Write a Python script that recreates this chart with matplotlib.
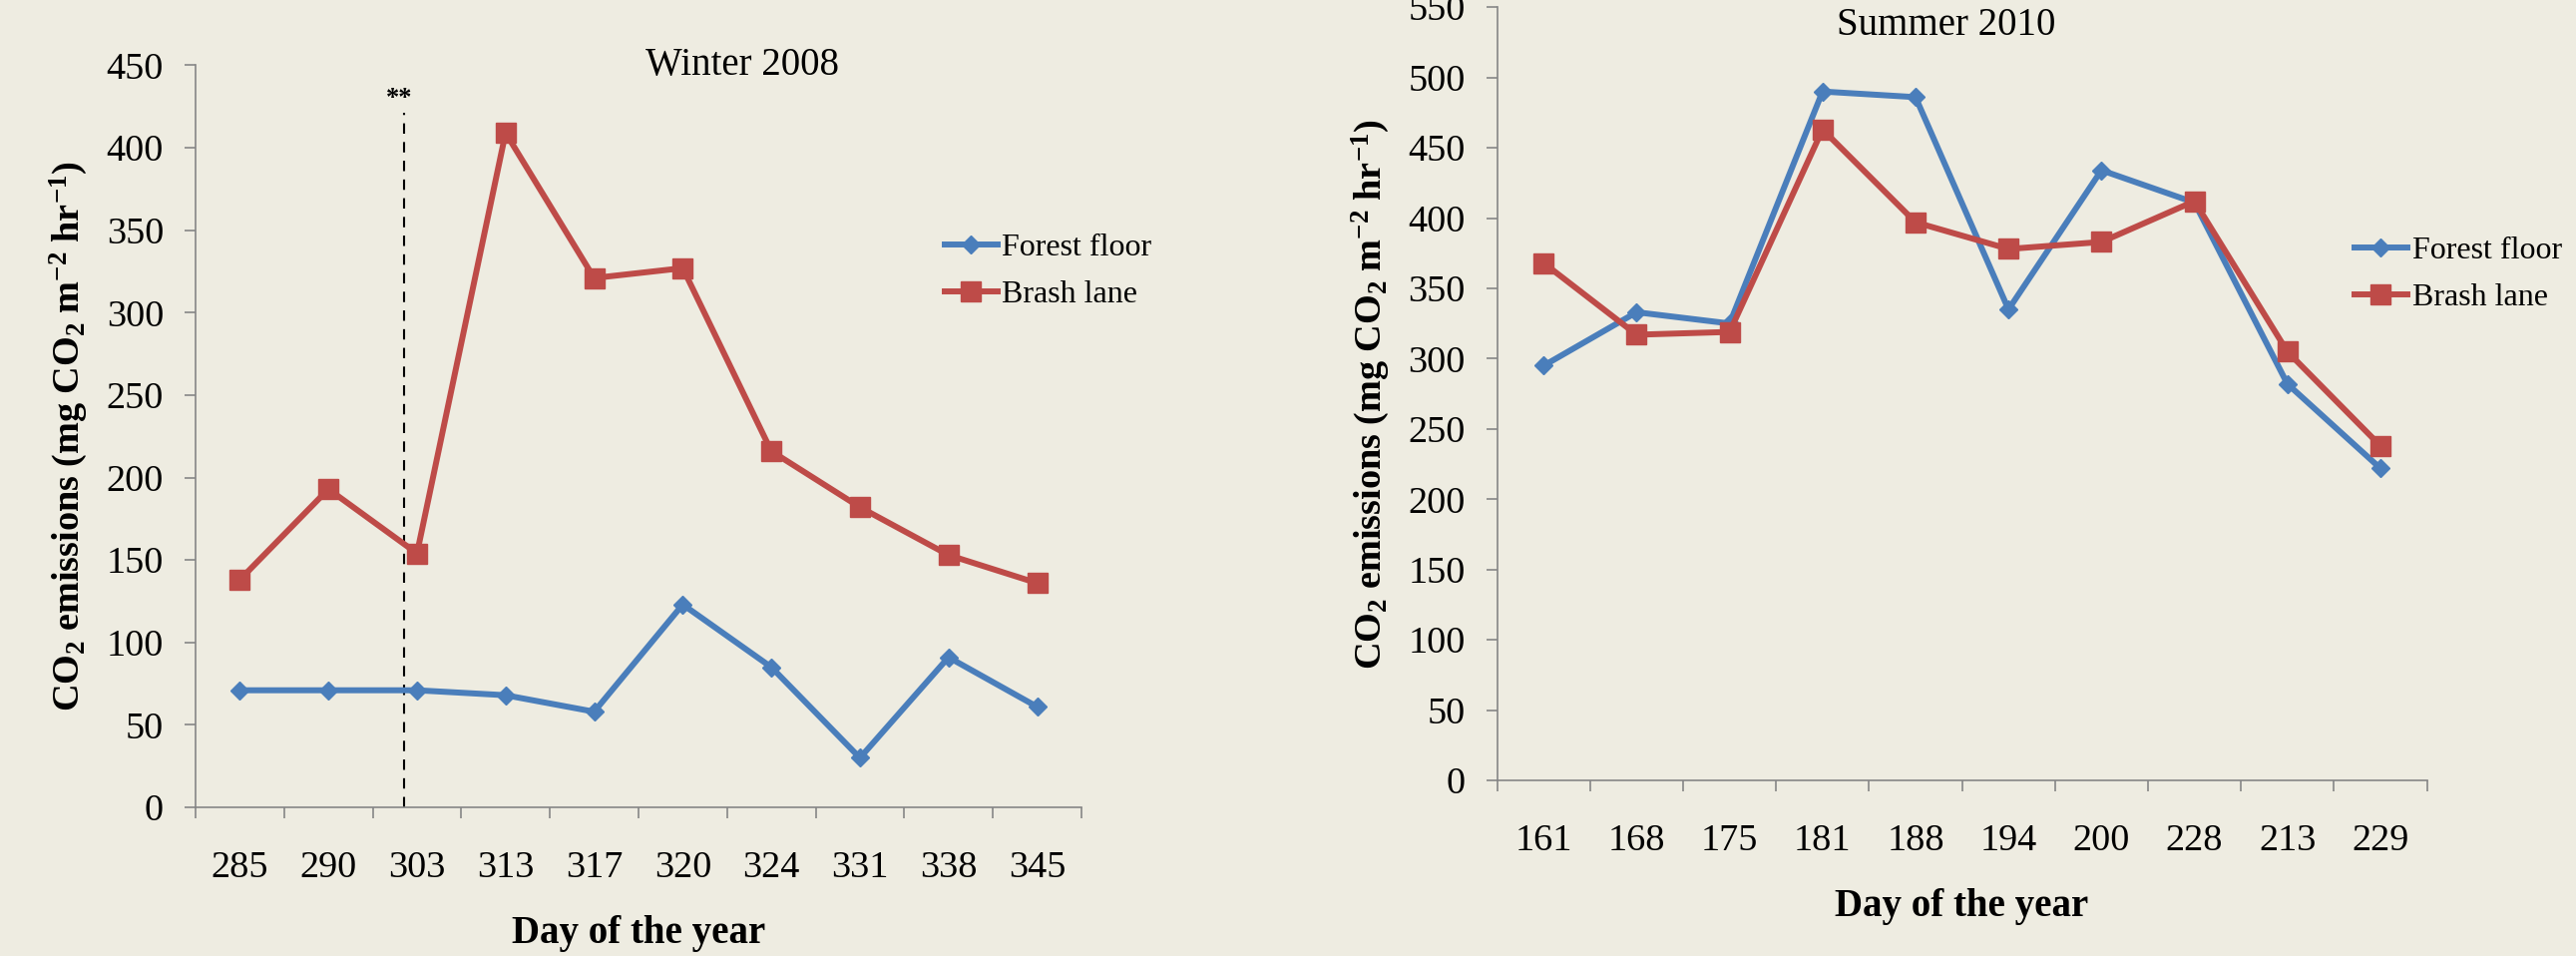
import matplotlib
matplotlib.use("Agg")
import matplotlib.pyplot as plt
import numpy as np
from matplotlib.lines import Line2D

plt.rcParams["font.family"] = ["Liberation Serif", "DejaVu Serif"]
plt.rcParams["mathtext.fontset"] = "custom"
plt.rcParams["mathtext.rm"] = "Liberation Serif"
plt.rcParams["mathtext.bf"] = "Liberation Serif:bold"
plt.rcParams["mathtext.it"] = "Liberation Serif:italic"

BG = "#EEECE1"
BLUE = "#4A7EBB"
RED = "#BE4B48"
SPINE = "#868686"

# Winter 2008
winter_days = ["285", "290", "303", "313", "317", "320", "324", "331", "338", "345"]
winter_forest = [71, 71, 71, 68, 58, 123, 85, 30, 91, 61]
winter_brash = [138, 193, 154, 409, 321, 327, 216, 182, 153, 136]
winter_marker_pos = 1.85
winter_marker_top = 421

# Summer 2010
summer_days = ["161", "168", "175", "181", "188", "194", "200", "228", "213", "229"]
summer_forest = [295, 333, 325, 490, 486, 335, 434, 411, 282, 222]
summer_brash = [368, 317, 319, 463, 397, 378, 383, 412, 305, 238]

YLABEL = r"$\mathbf{CO_2\ emissions\ (mg\ CO_2\ m^{-2}\ hr^{-1})}$"


def style_axes(ax, days, ymax):
    n = len(days)
    ax.set_facecolor(BG)
    for side in ["top", "right"]:
        ax.spines[side].set_visible(False)
    for side in ["left", "bottom"]:
        ax.spines[side].set_color(SPINE)
        ax.spines[side].set_linewidth(1.2)
    ax.set_xlim(-0.5, n - 0.5)
    ax.set_ylim(0, ymax)
    ax.set_yticks(np.arange(0, ymax + 1, 50))
    # category boundaries carry the tick marks, labels sit between them
    ax.set_xticks(np.arange(-0.5, n, 1.0))
    ax.set_xticklabels([])
    ax.set_xticks(np.arange(n), minor=True)
    ax.set_xticklabels(days, minor=True)
    ax.tick_params(axis="x", which="major", direction="out", length=8,
                   width=1.2, color=SPINE)
    ax.tick_params(axis="x", which="minor", length=0, pad=31, labelsize=27.5)
    ax.tick_params(axis="y", direction="out", length=8, width=1.2,
                   color=SPINE, pad=15, labelsize=27.5)
    ax.set_xlabel("Day of the year", fontsize=28, fontweight="bold", labelpad=22)
    ax.set_ylabel(YLABEL, fontsize=27.5, labelpad=12)


def plot_series(ax, forest, brash):
    x = np.arange(len(forest))
    ax.plot(x, forest, color=BLUE, lw=4.3, marker="D", ms=9,
            label="Forest floor", zorder=3)
    ax.plot(x, brash, color=RED, lw=4.3, marker="s", ms=14,
            label="Brash lane", zorder=3)


def add_legend(fig, ax, anchor):
    handles = [
        Line2D([0], [0], color=BLUE, lw=4.3, marker="D", ms=9),
        Line2D([0], [0], color=RED, lw=4.3, marker="s", ms=14),
    ]
    ax.legend(handles, ["Forest floor", "Brash lane"], loc="center left",
              bbox_to_anchor=anchor, bbox_transform=fig.transFigure,
              frameon=False, fontsize=23, handlelength=1.65,
              handletextpad=0.15, labelspacing=0.55, borderpad=0,
              borderaxespad=0)


fig = plt.figure(figsize=(25.82, 9.58), dpi=100)
fig.patch.set_facecolor(BG)

ax1 = fig.add_axes([0.0759, 0.1555, 0.3439, 0.7762])
ax2 = fig.add_axes([0.5812, 0.1837, 0.3609, 0.8088])

style_axes(ax1, winter_days, 450)
plot_series(ax1, winter_forest, winter_brash)
ax1.plot([winter_marker_pos, winter_marker_pos], [0, winter_marker_top],
         color="black", lw=1.5, ls=(0, (5, 4)), zorder=2)
ax1.text(winter_marker_pos - 0.05, 437, "**", ha="center",
         va="top", fontsize=19, fontweight="bold")
ax1.text(0.617, 1.0, "Winter 2008", transform=ax1.transAxes, ha="center",
         va="center", fontsize=28)
add_legend(fig, ax1, (947 / 2582, 1 - 272 / 958))

style_axes(ax2, summer_days, 550)
plot_series(ax2, summer_forest, summer_brash)
ax2.text(0.483, 0.976, "Summer 2010", transform=ax2.transAxes, ha="center",
         va="center", fontsize=28)
add_legend(fig, ax2, (2360 / 2582, 1 - 275 / 958))

fig.savefig("out.png", dpi=100, facecolor=BG)
